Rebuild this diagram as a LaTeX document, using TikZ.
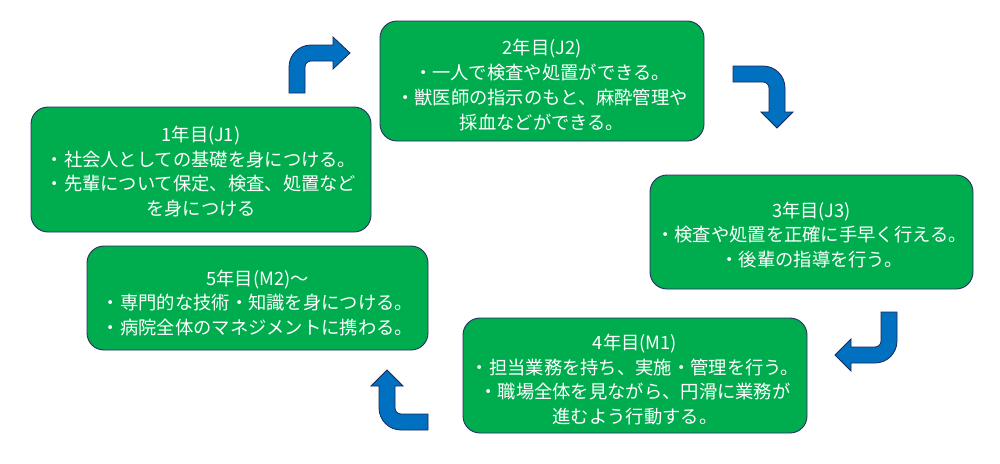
\documentclass[tikz,border=0pt]{standalone}
\usepackage{fontspec}
\newfontfamily\jpfont{Noto Sans CJK JP}
\definecolor{boxgreen}{RGB}{0,173,78}
\definecolor{boxline}{RGB}{40,45,100}
\definecolor{arrowblue}{RGB}{0,112,192}
\definecolor{arrowline}{RGB}{25,40,90}
\begin{document}
\begin{tikzpicture}[x=1pt,y=-1pt,
  stagebox/.style={draw=boxline, line width=0.9pt, fill=boxgreen, rounded corners=17pt, inner sep=0pt},
  stagetext/.style={text=white, align=center, inner sep=0pt,
    font=\jpfont\fontsize{18.3}{24.8}\selectfont},
  bentarrow/.style={draw=arrowline, line width=0.8pt, fill=arrowblue, line join=miter}]
\useasboundingbox (0,0) rectangle (1000,463);
\fill[white] (0,0) rectangle (1000,463);

% boxes
\node[stagebox, minimum width=324pt, minimum height=120pt] (j2) at (542,81) {};
\node[stagetext] (j2t) at ([yshift=-4pt]j2.center)
  {2年目(J2)\\・一人で検査や処置ができる。\\・獣医師の指示のもと、麻酔管理や\\採血などができる。};
\node[stagebox, minimum width=340pt, minimum height=125pt] (j1) at (201,169.5) {};
\node[stagetext] (j1t) at ([yshift=-2pt]j1.center)
  {1年目(J1)\\・社会人としての基礎を身につける。\\・先輩について保定、検査、処置など\\を身につける};
\node[stagebox, minimum width=341pt, minimum height=104pt] (m2) at (257.5,298) {};
\node[stagetext] (m2t) at ([yshift=-5pt]m2.center)
  {5年目(M2)～\\・専門的な技術・知識を身につける。\\・病院全体のマネジメントに携わる。};
\node[stagebox, minimum width=323pt, minimum height=114pt] (j3) at (811.5,232) {};
\node[stagetext] (j3t) at ([yshift=-3pt]j3.center)
  {3年目(J3)\\・検査や処置を正確に手早く行える。\\・後輩の指導を行う。};
\node[stagebox, minimum width=344pt, minimum height=115pt] (m1) at (635,375.5) {};
\node[stagetext] (m1t) at ([yshift=-4pt]m1.center)
  {4年目(M1)\\・担当業務を持ち、実施・管理を行う。\\・職場全体を見ながら、円滑に業務が\\進むよう行動する。};

% arrow J1 -> J2 (up, then right)
\draw[bentarrow] (289,93) -- (289,67) arc[start angle=180, end angle=270, radius=22]
  -- (333,45) -- (333,37) -- (350,53) -- (333,69) -- (333,61) -- (311,61)
  arc[start angle=270, end angle=180, radius=6] -- (305,93) -- cycle;
% arrow J2 -> J3 (right, then down)
\draw[bentarrow] (733,66) -- (763,66) arc[start angle=270, end angle=360, radius=22]
  -- (785,112) -- (793,112) -- (777,128) -- (761,112) -- (769,112) -- (769,88)
  arc[start angle=0, end angle=-90, radius=6] -- (733,82) -- cycle;
% arrow J3 -> M1 (down, then left)
\draw[bentarrow] (897,312) -- (897,341) arc[start angle=0, end angle=90, radius=22]
  -- (851,363) -- (851,371) -- (835,355) -- (851,339) -- (851,347) -- (875,347)
  arc[start angle=90, end angle=0, radius=6] -- (881,312) -- cycle;
% arrow M1 -> M2 (left, then up)
\draw[bentarrow] (428,430) -- (401,430) arc[start angle=90, end angle=180, radius=22]
  -- (379,386) -- (371,386) -- (387,370) -- (403,386) -- (395,386) -- (395,408)
  arc[start angle=180, end angle=90, radius=6] -- (428,414) -- cycle;
\end{tikzpicture}
\end{document}
